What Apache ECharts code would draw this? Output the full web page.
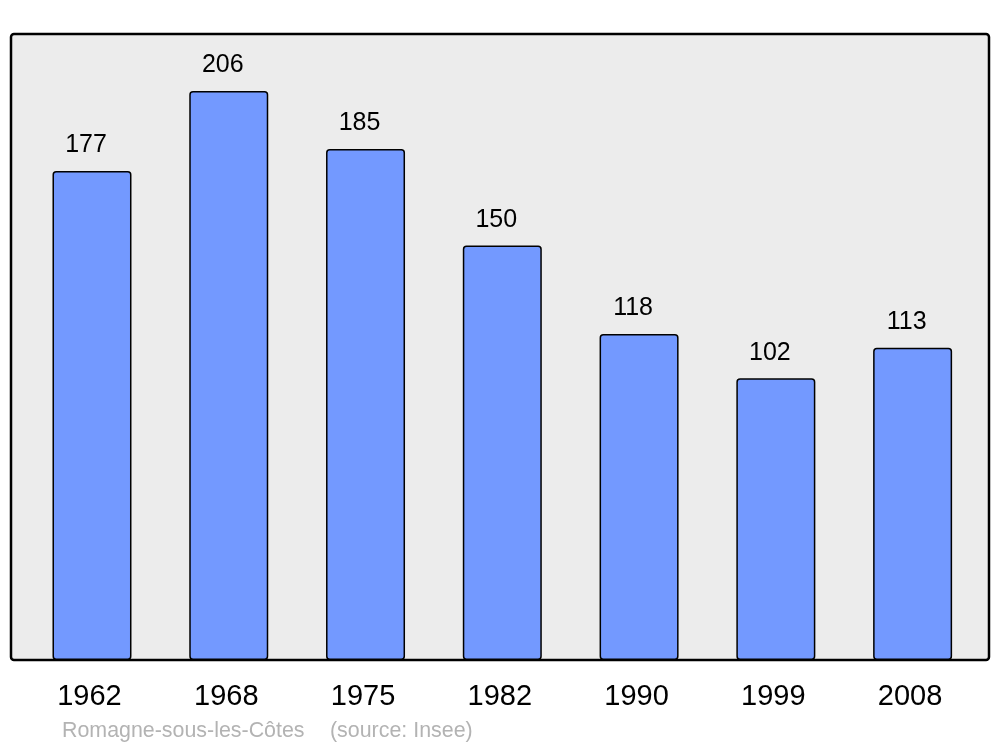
<!DOCTYPE html>
<html><head><meta charset="utf-8">
<script src="https://cdn.jsdelivr.net/npm/echarts@6/dist/echarts.min.js"></script>
<style>html,body{margin:0;padding:0;background:#fff}#c{width:1000px;height:747px}</style>
</head><body><div id="c"></div>
<script>
const years = ['1962','1968','1975','1982','1990','1999','2008'];
const population = [177,206,185,150,118,102,113];
const footerName = 'Romagne-sous-les-Côtes';
const footerSource = '(source: Insee)';

const chart = echarts.init(document.getElementById('c'), null, {renderer:'canvas'});
chart.setOption({
  animation:false,
  backgroundColor:'#ffffff',
  graphic:[
    {type:'rect', z:-10, shape:{x:11,y:34,width:978,height:626,r:3}, style:{fill:'#ececec',stroke:'#000',lineWidth:2.5}},
    {type:'text', left:62, top:721, style:{text:footerName, fill:'#b3b3b3', font:'21.4px "Liberation Sans", Arial, sans-serif'}},
    {type:'text', left:330, top:721, style:{text:footerSource, fill:'#b3b3b3', font:'21.4px "Liberation Sans", Arial, sans-serif'}}
  ],
  grid:{left:23.6, right:19, top:34, bottom:87, containLabel:false},
  xAxis:{type:'category', data:years,
    axisLine:{show:false}, axisTick:{show:false},
    axisLabel:{color:'#000', fontSize:29, fontFamily:'"Liberation Sans", Arial, sans-serif', margin:22, padding:[0,5,0,0]}},
  yAxis:{type:'value', min:0, max:226.6, show:false, splitLine:{show:false}},
  series:[{type:'bar', data:population, barWidth:79,
    itemStyle:{color:'#7399ff', borderColor:'#000', borderWidth:1.5, borderRadius:3},
    label:{show:true, position:'top', distance:13, offset:[-6,0], color:'#000', fontSize:25, fontFamily:'"Liberation Sans", Arial, sans-serif'}}]
});
</script></body></html>
